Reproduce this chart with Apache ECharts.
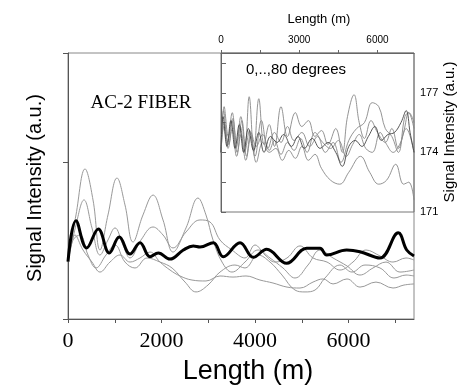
<!DOCTYPE html>
<html><head><meta charset="utf-8">
<script src="https://cdn.jsdelivr.net/npm/echarts@6/dist/echarts.min.js"></script>
<style>html,body{margin:0;padding:0;background:#fff}#c{width:462px;height:388px}</style>
</head><body><div id="c"></div>
<script>
// Main chart (arbitrary units, x in metres)
const mainThick = [[0,36.6],[171,62.8],[400,45.4],[648,57.5],[883,42.2],[1097,52.4],[1326,41.5],[1540,48.8],[1754,39.8],[1931,42.2],[2181,38.3],[2466,44.1],[2680,46.6],[2823,46.0],[3107,48.8],[3321,39.8],[3679,48.8],[3963,39.4],[4250,44.5],[4677,35.6],[5105,45.2],[5390,45.2],[5533,40.9],[5960,44.1],[6245,43.0],[6673,39.0],[7064,55.1],[7244,44.1],[7400,40.3]];
const mainA = [[0,36.4],[171,66.5],[364,95.9],[535,76.1],[684,44.1],[855,66.5],[1048,90.1],[1219,72.9],[1390,49.2],[1604,66.5],[1818,79.2],[2032,63.3],[2246,42.8],[2524,58.2],[2780,77.3],[2951,66.5],[3101,50.5],[3294,36.4],[3507,30.0],[3785,36.4],[4064,44.1],[4320,39.0],[4598,32.6],[4855,26.2],[5133,34.5],[5390,44.1],[5668,39.0],[5967,33.9],[6245,28.1],[6523,32.6],[6801,36.4],[7100,30.0],[7400,31.3]];
const mainB = [[0,36.4],[171,60.1],[342,76.1],[513,58.2],[684,40.9],[855,50.5],[1005,58.2],[1176,47.3],[1326,39.0],[1561,50.5],[1818,58.8],[2032,53.7],[2246,45.4],[2524,55.6],[2823,63.3],[3037,62.0],[3251,50.5],[3507,44.1],[3785,39.0],[3999,47.3],[4213,40.9],[4427,36.4],[4684,39.0],[4962,46.7],[5240,39.0],[5539,36.4],[5817,31.3],[6095,36.4],[6373,44.1],[6673,40.3],[6951,36.4],[7229,39.0],[7400,37.7]];
const mainC = [[0,36.4],[107,50.5],[257,53.7],[428,40.9],[599,32.6],[813,40.9],[1005,47.3],[1219,36.4],[1433,32.6],[1690,39.0],[1968,36.4],[2225,32.6],[2503,23.6],[2738,17.3],[2994,21.7],[3251,30.0],[3571,34.5],[3785,32.6],[4064,40.9],[4320,36.4],[4577,28.1],[4855,18.5],[5069,17.3],[5283,18.5],[5496,26.2],[5817,34.5],[6074,30.0],[6352,34.5],[6673,32.6],[6972,26.2],[7229,28.1],[7400,27.5]];
const mainD = [[0,36.4],[150,53.7],[321,44.1],[513,36.4],[684,30.0],[898,36.4],[1112,40.9],[1326,36.4],[1540,39.0],[1754,42.8],[1968,36.4],[2182,31.3],[2396,27.5],[2652,24.9],[2951,24.3],[3251,27.5],[3529,26.8],[3807,27.5],[4106,24.9],[4384,23.0],[4684,20.4],[4962,19.8],[5240,23.6],[5454,25.6],[5668,22.4],[5967,25.6],[6245,20.4],[6587,23.6],[6951,19.8],[7186,21.7],[7400,22.4]];

// Inset (signal intensity a.u., x in metres)
const insetJ1 = [[0,174.2],[120,176.3],[280,174.8],[430,176.0],[600,174.5],[760,175.8],[920,174.3],[1080,176.8],[1260,174.0],[1450,176.7],[1650,174.4],[1850,175.4],[2050,174.3],[2300,176.3],[2550,174.8],[2850,176.0],[3100,175.3],[3350,175.6],[3600,174.8],[3850,175.1],[4100,174.4],[4400,175.2],[4650,174.0],[4850,175.8],[5100,176.9],[5300,175.5],[5500,174.7],[5750,175.6],[6000,175.0],[6300,174.5],[6550,175.2],[6800,174.2],[7000,175.0],[7200,176.0],[7400,175.2]];
const insetJ2 = [[0,174.0],[100,176.1],[260,174.5],[420,175.6],[580,174.2],[740,175.3],[900,174.0],[1100,175.1],[1300,173.8],[1550,175.6],[1800,174.2],[2050,175.0],[2300,174.5],[2550,175.3],[2800,174.6],[3100,175.0],[3400,174.3],[3700,174.8],[4000,174.0],[4300,174.5],[4600,173.5],[4900,174.6],[5200,175.2],[5500,175.5],[5800,176.5],[6050,176.3],[6300,175.2],[6550,174.8],[6800,174.0],[7050,175.8],[7200,176.0],[7400,175.5]];
const insetJ3 = [[0,174.0],[80,175.8],[230,174.3],[380,175.6],[540,174.2],[700,175.4],[870,174.0],[1050,175.2],[1250,174.1],[1450,175.0],[1650,174.0],[1900,174.8],[2150,174.5],[2400,174.9],[2700,174.3],[2950,174.8],[3200,174.2],[3500,174.7],[3800,174.2],[4100,174.5],[4400,174.0],[4650,173.3],[4900,174.3],[5150,174.6],[5400,174.3],[5650,174.8],[5900,175.3],[6150,174.6],[6400,174.9],[6650,175.0],[6900,175.5],[7100,176.1],[7250,175.0],[7400,174.0]];
const insetJ4 = [[0,174.0],[120,175.5],[290,174.4],[450,175.7],[620,174.0],[800,175.6],[980,173.8],[1150,175.0],[1350,174.3],[1600,174.9],[1850,174.1],[2050,174.6],[2300,173.9],[2550,174.5],[2800,174.1],[3050,174.7],[3300,174.0],[3600,175.0],[3900,174.5],[4200,174.2],[4500,174.6],[4800,173.8],[5050,174.4],[5300,174.9],[5550,174.2],[5800,174.0],[6100,175.0],[6350,174.4],[6600,174.0],[6850,174.4],[7100,175.2],[7400,174.0]];
const insetJ5 = [[0,174.0],[110,175.3],[270,174.2],[430,175.2],[600,173.8],[770,174.9],[950,173.6],[1150,174.8],[1350,173.5],[1600,174.5],[1850,174.0],[2100,174.2],[2350,173.6],[2600,174.1],[2850,173.7],[3100,174.3],[3350,173.6],[3600,173.9],[3850,173.2],[4200,172.6],[4550,172.4],[4900,173.0],[5350,173.8],[5700,173.0],[6050,172.4],[6350,172.6],[6700,173.4],[7000,172.4],[7200,172.5],[7400,171.6]];

const mainXLabels = [0, 2000, 4000, 6000];
const insetXLabels = [0, 3000, 6000];
const insetYLabels = [171, 174, 177];

const chart = echarts.init(document.getElementById('c'));
const thin = (data, xi, color, w) => ({type:'line', xAxisIndex:xi, yAxisIndex:xi, data, smooth:0.4, symbol:'none', silent:true,
  lineStyle:{width:w, color}});
chart.setOption({
  animation:false,
  backgroundColor:'#fff',
  grid:[
    {left:68, top:53, width:346, height:266, show:true, borderColor:'#888', borderWidth:1},
    {left:221, top:53, width:193, height:159, show:true, borderColor:'#777', borderWidth:1}
  ],
  xAxis:[
    {gridIndex:0, type:'value', min:0, max:7400, interval:1000,
     axisLine:{lineStyle:{color:'#555'}}, axisTick:{show:true, length:4, lineStyle:{color:'#555'}},
     splitLine:{show:false},
     axisLabel:{margin:11, color:'#000', fontFamily:'Liberation Serif', fontSize:22,
       showMaxLabel:false, formatter:v => mainXLabels.includes(v) ? String(v) : ''}},
    {gridIndex:1, type:'value', position:'top', min:0, max:7400, interval:1500,
     axisLine:{lineStyle:{color:'#666'}}, axisTick:{show:true, length:3, lineStyle:{color:'#666'}},
     splitLine:{show:false},
     axisLabel:{margin:8, color:'#000', fontFamily:'Liberation Sans', fontSize:10,
       showMaxLabel:false, formatter:v => insetXLabels.includes(v) ? String(v) : ''}}
  ],
  yAxis:[
    {gridIndex:0, type:'value', min:0, max:170, interval:100,
     axisLine:{show:true, lineStyle:{color:'#555'}}, axisTick:{show:true, length:5, lineStyle:{color:'#555'}},
     splitLine:{show:false}, axisLabel:{show:false}},
    {gridIndex:1, type:'value', position:'right', min:171, max:179, interval:1.5,
     axisLine:{show:true, lineStyle:{color:'#666'}}, axisTick:{show:true, length:5, lineStyle:{color:'#666'}},
     splitLine:{show:false},
     axisLabel:{margin:6, color:'#000', fontFamily:'Liberation Sans', fontSize:11,
       showMaxLabel:false, formatter:v => insetYLabels.includes(v) ? String(v) : ''}}
  ],
  series:[
    thin(mainA,0,'#999',1), thin(mainB,0,'#999',1), thin(mainC,0,'#999',1), thin(mainD,0,'#999',1),
    {type:'line', xAxisIndex:0, yAxisIndex:0, data:mainThick, smooth:0.4, symbol:'none', silent:true,
     lineStyle:{width:3, color:'#000'}},
    thin(insetJ5,1,'#888',0.9), thin(insetJ4,1,'#888',0.9), thin(insetJ2,1,'#888',0.9), thin(insetJ1,1,'#888',0.9), thin(insetJ3,1,'#444',0.9)
  ],
  graphic:[
    {type:'text', x:248, y:372, style:{text:'Length (m)', font:'27px "Liberation Sans"', fill:'#000', textAlign:'center', textVerticalAlign:'middle'}},
    {type:'text', x:35, y:188, rotation:Math.PI/2, style:{text:'Signal Intensity (a.u.)', font:'20px "Liberation Sans"', fill:'#000', textAlign:'center', textVerticalAlign:'middle'}},
    {type:'text', x:319, y:19, style:{text:'Length (m)', font:'13px "Liberation Sans"', fill:'#000', textAlign:'center', textVerticalAlign:'middle'}},
    {type:'text', x:450, y:132, rotation:Math.PI/2, style:{text:'Signal Intensity (a.u.)', font:'15px "Liberation Sans"', fill:'#000', textAlign:'center', textVerticalAlign:'middle'}},
    {type:'text', x:141, y:103, style:{text:'AC-2 FIBER', font:'19px "Liberation Serif"', fill:'#000', textAlign:'center', textVerticalAlign:'middle'}},
    {type:'text', x:296, y:70, style:{text:'0,..,80 degrees', font:'15px "Liberation Sans"', fill:'#000', textAlign:'center', textVerticalAlign:'middle'}}
  ]
});
</script></body></html>
